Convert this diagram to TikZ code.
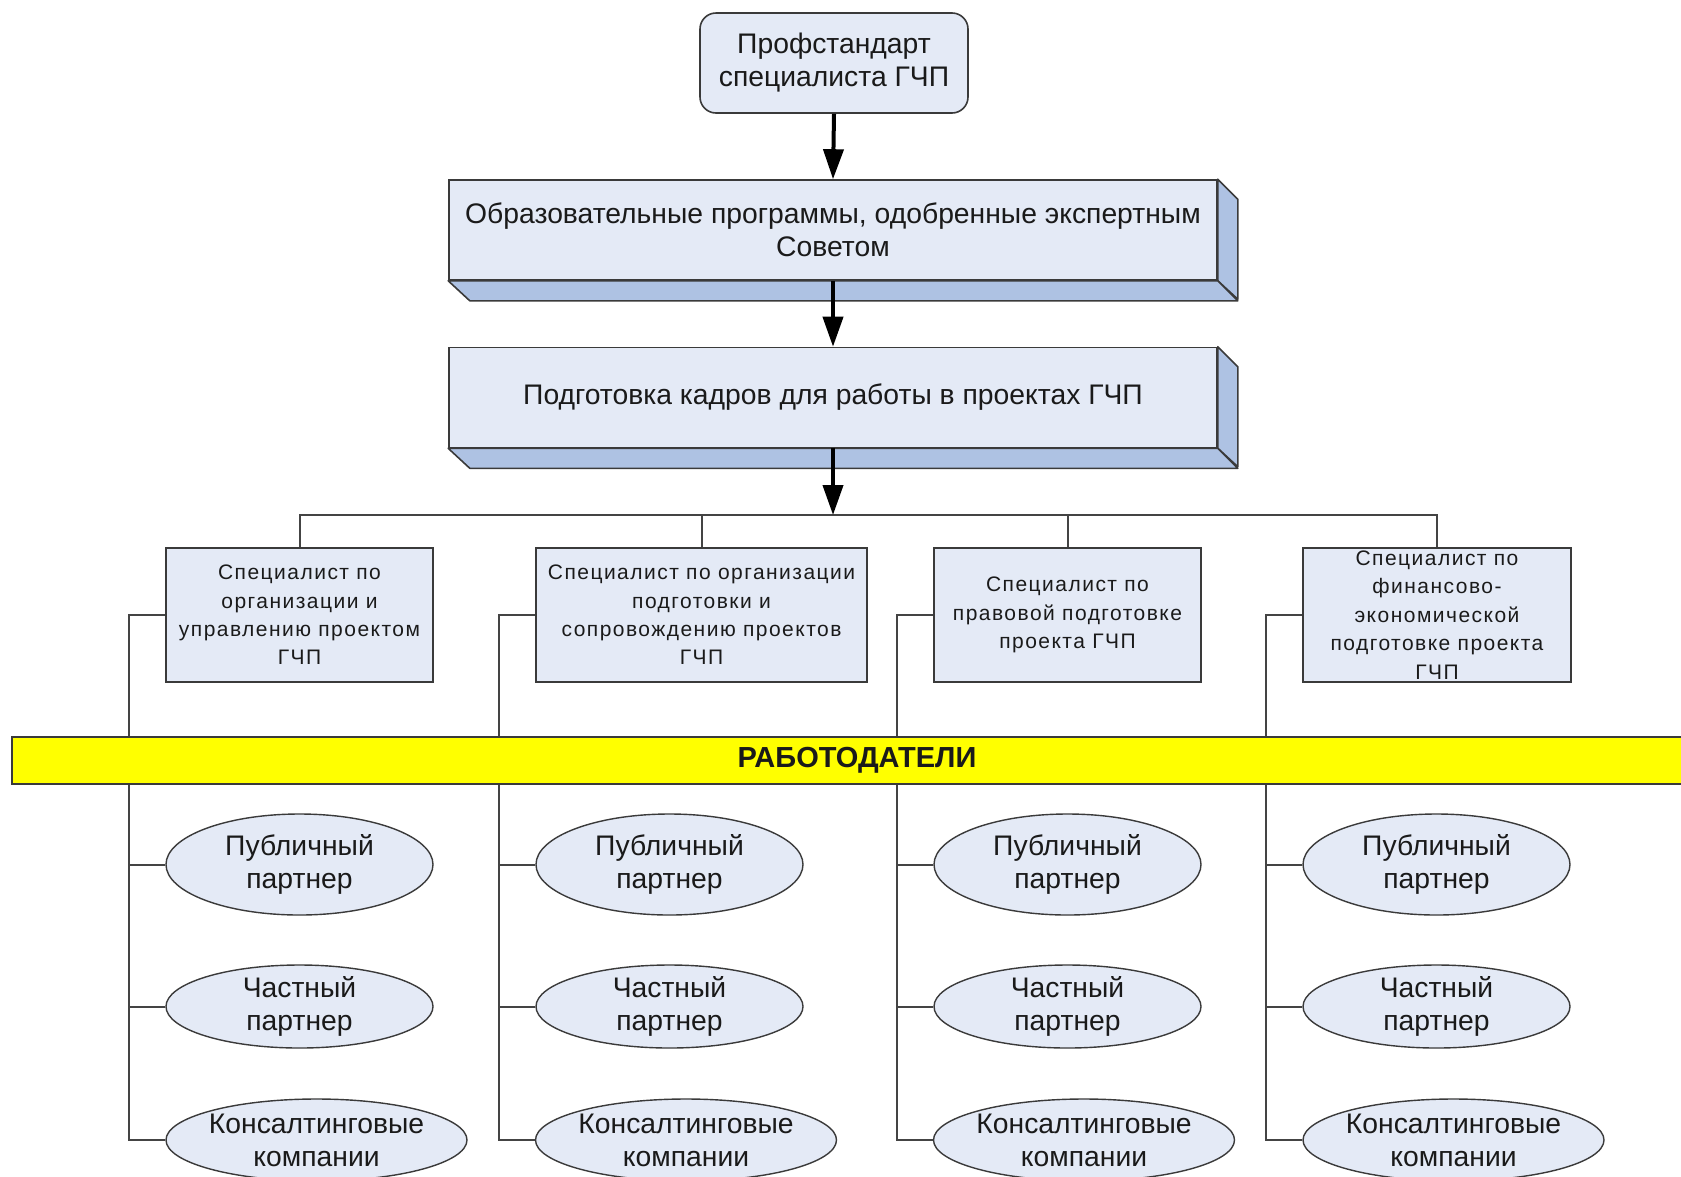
\documentclass[tikz,border=0pt]{standalone}
\usepackage{fontspec}
\setmainfont{Liberation Sans}
\usetikzlibrary{shapes.geometric,arrows.meta}
\definecolor{boxfill}{HTML}{E4EAF6}
\definecolor{sidefill}{HTML}{AEC2E3}
\definecolor{edge}{HTML}{3A3A3A}
\definecolor{wirecol}{HTML}{444444}
\definecolor{ink}{HTML}{1A1A1A}
\definecolor{bandfill}{HTML}{FFFF00}
\tikzset{
  every node/.style={font=\fontsize{28.3}{33}\selectfont, text=ink},
  topbox/.style={draw=edge, line width=1.6pt, fill=boxfill, rounded corners=16pt,
    minimum width=268, minimum height=100, inner sep=0, align=center},
  front/.style={draw=edge, line width=1.6pt, fill=boxfill, minimum width=768,
    minimum height=100, inner sep=0, align=center},
  face/.style={draw=edge, line width=1.6pt, fill=sidefill, line join=round},
  spec/.style={draw=edge, line width=1.6pt, fill=boxfill, minimum height=134,
    inner sep=0, align=center,
    font=\fontsize{21}{28.4}\selectfont\addfontfeature{LetterSpace=7}},
  partner/.style={ellipse, draw=edge, line width=1.4pt, fill=boxfill, inner sep=0},
  ptext/.style={align=center, font=\fontsize{28.3}{33}\selectfont},
  wire/.style={draw=wirecol, line width=2pt},
  band/.style={draw=edge, line width=1.6pt, fill=bandfill, minimum width=1678,
    minimum height=47, inner sep=0},
  bigarrow/.style={line width=4pt, -{Triangle[length=30pt,width=20pt]}},
}
\begin{document}
\begin{tikzpicture}[x=1pt,y=-1pt]
\path[use as bounding box, clip] (0,0) rectangle (1681,1176);
\fill[white] (0,0) rectangle (1681,1176);

% top
\node[topbox] (prof) at (834,63) {Профстандарт\\специалиста ГЧП};

% 3D boxes
\node[front] (edu) at (833,230) {Образовательные программы, одобренные экспертным\\Советом};
\filldraw[face] (edu.north east) -- ++(20,20) -- ++(0,100) -- (edu.south east) -- cycle;
\filldraw[face] (edu.south west) -- (edu.south east) -- ++(20,20) -- ++(-768,0) -- cycle;

\node[front] (train) at (833,397.5) {Подготовка кадров для работы в проектах ГЧП};
\filldraw[face] (train.north east) -- ++(20,20) -- ++(0,100) -- (train.south east) -- cycle;
\filldraw[face] (train.south west) -- (train.south east) -- ++(20,20) -- ++(-768,0) -- cycle;

\coordinate (bus) at (833,515);

% specialists
\node[spec, minimum width=267] (s1) at (299.5,615) {Специалист по\\организации и\\управлению проектом\\ГЧП};
\node[spec, minimum width=331] (s2) at (701.5,615) {Специалист по организации\\подготовки и\\сопровождению проектов\\ГЧП};
\node[spec, minimum width=267] (s3) at (1067.5,615) {Специалист по\\правовой подготовке\\проекта ГЧП};
\node[spec, minimum width=268] (s4) at (1437,615) {Специалист по\\финансово-\\экономической\\подготовке проекта\\ГЧП};

% partners
\foreach \i/\xa/\xb in {1/299.5/316.5, 2/669.5/686, 3/1067.5/1084, 4/1436.5/1453.5}{
  \node[partner, minimum width=267, minimum height=101,
    label={[ptext]center:Публичный\\партнер}] (p\i a) at (\xa,864.5) {};
  \node[partner, minimum width=267, minimum height=83,
    label={[ptext]center:Частный\\партнер}] (p\i b) at (\xa,1006.5) {};
  \node[partner, minimum width=301, minimum height=82,
    label={[ptext]center:Консалтинговые\\компании}] (p\i c) at (\xb,1140) {};
}

% wires
\foreach \i in {1,2,3,4}{
  \draw[wire] (s\i.west) -- ++(-36,0) |- (p\i c.west);
  \draw[wire] (p\i a.west) -- ++(-36,0);
  \draw[wire] (p\i b.west) -- ++(-36,0);
}
\draw[wire] (s1.north) |- (bus) -| (s4.north);
\draw[wire] (s2.north) -- (s2.north |- bus);
\draw[wire] (s3.north) -- (s3.north |- bus);

% employers band
\node[band] (emp) at (851,760.5) {};
\node[font=\bfseries\fontsize{29}{32}\selectfont] (empt) at (857,760.5) {РАБОТОДАТЕЛИ};

% arrows
\draw[bigarrow] (prof.south) -- (edu.north);
\draw[bigarrow] (edu.south) -- (train.north);
\draw[bigarrow] (train.south) -- (bus);
\end{tikzpicture}
\end{document}
